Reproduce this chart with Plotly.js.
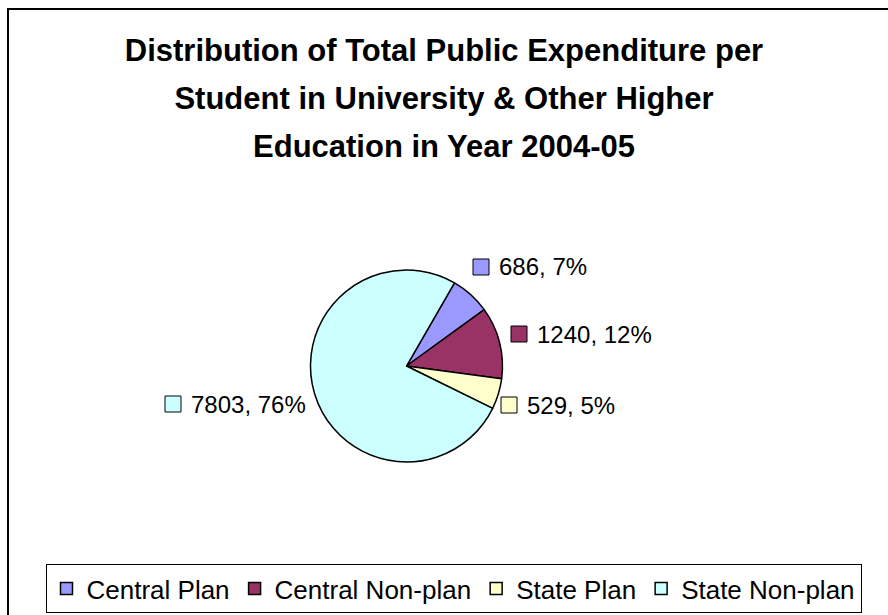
<!DOCTYPE html>
<html>
<head>
<meta charset="utf-8">
<script src="https://cdn.plot.ly/plotly-3.0.1.min.js"></script>
<style>
  html, body { margin: 0; padding: 0; background: #fff; }
  #chart { width: 888px; height: 615px; }
</style>
</head>
<body>
<div id="chart"></div>
<script>
// ---- data ----
const categories = ['Central Plan', 'Central Non-plan', 'State Plan', 'State Non-plan'];
const values = [686, 1240, 529, 7803];
const colors = ['#9999FF', '#993366', '#FFFFCC', '#CCFFFF'];
const titleLines = [
  'Distribution of Total Public Expenditure per',
  'Student in University &amp; Other Higher',
  'Education in Year 2004-05'
];

// ---- layout helpers ----
const W = 888, H = 615;
const px = x => x / W;
const py = y => 1 - y / H;

const total = values.reduce((a, b) => a + b, 0);
const labelPos = [[497, 267], [535, 334], [525, 405], [189, 404]];
const sq = 16;

const annotations = [];
const shapes = [];
values.forEach((v, i) => {
  const pct = Math.round(v / total * 100);
  const [lx, ly] = labelPos[i];
  annotations.push({
    xref: 'paper', yref: 'paper', x: px(lx), y: py(ly),
    xanchor: 'left', yanchor: 'middle', showarrow: false,
    text: v + ', ' + pct + '%',
    font: {family: 'Arial, Liberation Sans, sans-serif', size: 24, color: '#000'}
  });
  shapes.push({
    type: 'rect', xref: 'paper', yref: 'paper',
    x0: px(lx - 24), x1: px(lx - 24 + sq), y0: py(ly + sq / 2), y1: py(ly - sq / 2),
    fillcolor: colors[i], line: {color: '#000', width: 1}
  });
});

// outer border
shapes.push({
  type: 'rect', xref: 'paper', yref: 'paper',
  x0: px(8), x1: px(W + 5), y0: py(H + 5), y1: py(9),
  fillcolor: 'rgba(0,0,0,0)', line: {color: '#000', width: 2}
});

const cx = 406.5, cy = 366, r = 96;

const data = [{
  type: 'pie',
  labels: categories,
  values: values,
  sort: false,
  direction: 'clockwise',
  rotation: 30,
  textinfo: 'none',
  hoverinfo: 'label+value+percent',
  marker: {colors: colors, line: {color: '#000', width: 1.5}},
  domain: {x: [px(cx - r), px(cx + r)], y: [py(cy + r), py(cy - r)]}
}];

const layout = {
  width: W, height: H,
  margin: {l: 0, r: 0, t: 0, b: 0},
  paper_bgcolor: '#fff',
  font: {family: 'Arial, Liberation Sans, sans-serif', color: '#000'},
  title: {
    text: titleLines.map(l => '<b><span style="font-size:31px">' + l + '</span></b>').join('<br>'),
    font: {family: 'Arial, Liberation Sans, sans-serif', size: 37, color: '#000'},
    x: 0.5, xanchor: 'center', xref: 'paper',
    y: py(61), yanchor: 'top', yref: 'paper'
  },
  showlegend: true,
  legend: {
    orientation: 'h',
    x: px((30 + 877) / 2), xanchor: 'center',
    y: py(613), yanchor: 'bottom',
    bordercolor: '#000', borderwidth: 1,
    bgcolor: '#fff',
    font: {family: 'Arial, Liberation Sans, sans-serif', size: 26, color: '#000'},
    itemwidth: 30,
    traceorder: 'normal'
  },
  annotations: annotations,
  shapes: shapes
};

Plotly.newPlot('chart', data, layout, {displayModeBar: false, staticPlot: true});
</script>
</body>
</html>
